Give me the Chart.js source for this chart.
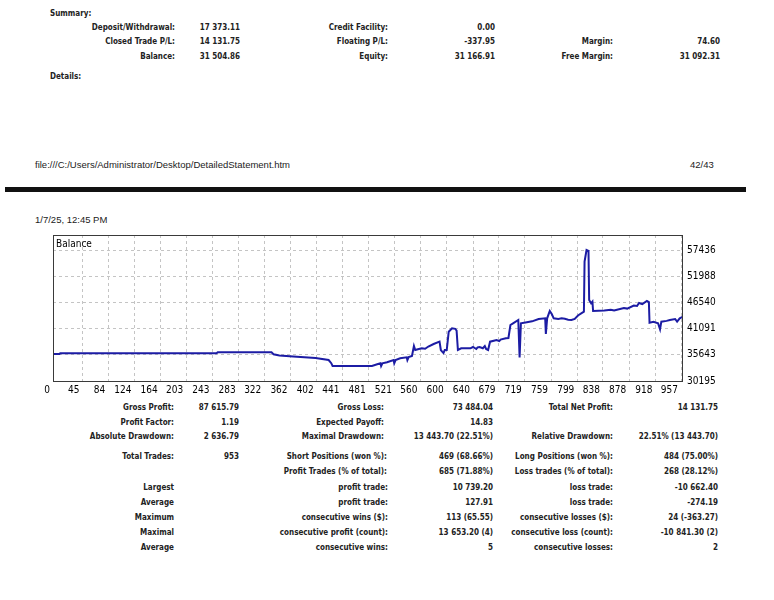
<!DOCTYPE html>
<html>
<head>
<meta charset="utf-8">
<title>Detailed Statement</title>
<script src="https://cdn.jsdelivr.net/npm/chart.js@4.4.1/dist/chart.umd.min.js"></script>
<style>
    html, body { margin: 0; padding: 0; background: #fff; }
    #page { position: relative; width: 774px; height: 600px; overflow: hidden; }
    .t {
        position: absolute;
        white-space: nowrap;
        font: bold 8px "DejaVu Sans Condensed", "DejaVu Sans", sans-serif;
        color: #222;
        line-height: 10px;
        transform: translateY(-50%);
    }
    .t.r { transform: translate(-100%, -50%); }
    .p {
        position: absolute;
        white-space: nowrap;
        font: 9.5px "Liberation Sans", Arial, sans-serif;
        color: #222;
        line-height: 11px;
        transform: translateY(-50%);
    }
    #bar { position: absolute; left: 5px; top: 187px; width: 741px; height: 5px; background: #111; }
    #chartBox { position: absolute; left: 40px; top: 230px; width: 708px; height: 170px; }
    #balanceLabel {
        position: absolute; left: 56px; top: 243px;
        font: 10px "DejaVu Sans Condensed", "DejaVu Sans", sans-serif;
        color: #000; transform: translateY(-50%); white-space: nowrap;
    }
</style>
</head>
<body>
<div id="page">
    <div class="t" style="left:50px;top:13.5px">Summary:</div>

    <div class="t r" style="left:175px;top:27.5px">Deposit/Withdrawal:</div>
    <div class="t r" style="left:240px;top:27.5px">17 373.11</div>
    <div class="t r" style="left:388px;top:27.5px">Credit Facility:</div>
    <div class="t r" style="left:495px;top:27.5px">0.00</div>

    <div class="t r" style="left:175px;top:42px">Closed Trade P/L:</div>
    <div class="t r" style="left:240px;top:42px">14 131.75</div>
    <div class="t r" style="left:388px;top:42px">Floating P/L:</div>
    <div class="t r" style="left:495px;top:42px">-337.95</div>
    <div class="t r" style="left:613px;top:42px">Margin:</div>
    <div class="t r" style="left:720px;top:42px">74.60</div>

    <div class="t r" style="left:175px;top:56.5px">Balance:</div>
    <div class="t r" style="left:240px;top:56.5px">31 504.86</div>
    <div class="t r" style="left:388px;top:56.5px">Equity:</div>
    <div class="t r" style="left:495px;top:56.5px">31 166.91</div>
    <div class="t r" style="left:613px;top:56.5px">Free Margin:</div>
    <div class="t r" style="left:720px;top:56.5px">31 092.31</div>

    <div class="t" style="left:50px;top:77px">Details:</div>

    <div class="p" style="left:35px;top:164px">file:///C:/Users/Administrator/Desktop/DetailedStatement.htm</div>
    <div class="p" style="left:690px;top:164px">42/43</div>
    <div id="bar"></div>
    <div class="p" style="left:35px;top:219px">1/7/25, 12:45 PM</div>

    <div id="chartBox"><canvas id="balanceChart" width="708" height="170"></canvas></div>
    <div id="balanceLabel">Balance</div>

    <div class="t r" style="left:174px;top:408px">Gross Profit:</div>
    <div class="t r" style="left:239px;top:408px">87 615.79</div>
    <div class="t r" style="left:384px;top:408px">Gross Loss:</div>
    <div class="t r" style="left:493px;top:408px">73 484.04</div>
    <div class="t r" style="left:613px;top:408px">Total Net Profit:</div>
    <div class="t r" style="left:718px;top:408px">14 131.75</div>

    <div class="t r" style="left:174px;top:422.5px">Profit Factor:</div>
    <div class="t r" style="left:239px;top:422.5px">1.19</div>
    <div class="t r" style="left:384px;top:422.5px">Expected Payoff:</div>
    <div class="t r" style="left:493px;top:422.5px">14.83</div>

    <div class="t r" style="left:174px;top:437px">Absolute Drawdown:</div>
    <div class="t r" style="left:239px;top:437px">2 636.79</div>
    <div class="t r" style="left:384px;top:437px">Maximal Drawdown:</div>
    <div class="t r" style="left:493px;top:437px">13 443.70 (22.51%)</div>
    <div class="t r" style="left:613px;top:437px">Relative Drawdown:</div>
    <div class="t r" style="left:718px;top:437px">22.51% (13 443.70)</div>

    <div class="t r" style="left:174px;top:457px">Total Trades:</div>
    <div class="t r" style="left:239px;top:457px">953</div>
    <div class="t r" style="left:387px;top:457px">Short Positions (won %):</div>
    <div class="t r" style="left:493px;top:457px">469 (68.66%)</div>
    <div class="t r" style="left:613px;top:457px">Long Positions (won %):</div>
    <div class="t r" style="left:718px;top:457px">484 (75.00%)</div>

    <div class="t r" style="left:387px;top:472px">Profit Trades (% of total):</div>
    <div class="t r" style="left:493px;top:472px">685 (71.88%)</div>
    <div class="t r" style="left:613px;top:472px">Loss trades (% of total):</div>
    <div class="t r" style="left:718px;top:472px">268 (28.12%)</div>

    <div class="t r" style="left:174px;top:488px">Largest</div>
    <div class="t r" style="left:388px;top:488px">profit trade:</div>
    <div class="t r" style="left:493px;top:488px">10 739.20</div>
    <div class="t r" style="left:613px;top:488px">loss trade:</div>
    <div class="t r" style="left:718px;top:488px">-10 662.40</div>

    <div class="t r" style="left:174px;top:503px">Average</div>
    <div class="t r" style="left:388px;top:503px">profit trade:</div>
    <div class="t r" style="left:493px;top:503px">127.91</div>
    <div class="t r" style="left:613px;top:503px">loss trade:</div>
    <div class="t r" style="left:718px;top:503px">-274.19</div>

    <div class="t r" style="left:174px;top:518px">Maximum</div>
    <div class="t r" style="left:388px;top:518px">consecutive wins ($):</div>
    <div class="t r" style="left:493px;top:518px">113 (65.55)</div>
    <div class="t r" style="left:613px;top:518px">consecutive losses ($):</div>
    <div class="t r" style="left:718px;top:518px">24 (-363.27)</div>

    <div class="t r" style="left:174px;top:533px">Maximal</div>
    <div class="t r" style="left:388px;top:533px">consecutive profit (count):</div>
    <div class="t r" style="left:493px;top:533px">13 653.20 (4)</div>
    <div class="t r" style="left:613px;top:533px">consecutive loss (count):</div>
    <div class="t r" style="left:718px;top:533px">-10 841.30 (2)</div>

    <div class="t r" style="left:174px;top:548px">Average</div>
    <div class="t r" style="left:388px;top:548px">consecutive wins:</div>
    <div class="t r" style="left:493px;top:548px">5</div>
    <div class="t r" style="left:613px;top:548px">consecutive losses:</div>
    <div class="t r" style="left:718px;top:548px">2</div>
</div>

<script>
// balance curve (trade number -> balance)
var tradeIndex = [
    0, 10, 11, 249, 251, 333, 336, 345, 366, 400, 420, 424, 426, 486,
    494, 499, 500, 502, 509, 519, 520, 522, 529, 539, 540, 542, 547, 550,
    552, 556, 562, 567, 572, 580, 589, 591, 593, 595, 597, 600, 603, 608,
    613, 615, 617, 622, 636, 640, 645, 647, 650, 655, 658, 660, 663, 666,
    676, 680, 682, 690, 694, 697, 701, 709, 711, 713, 720, 730, 740, 750,
    751, 753, 757, 760, 763, 770, 775, 780, 785, 790, 795, 800, 809, 810,
    813, 816, 817, 820, 822, 823, 840, 850, 855, 870, 875, 885, 890, 893,
    898, 905, 908, 909, 915, 922, 925, 927, 935, 940, 948, 951, 955, 960
];
var balance = [
    35810, 35810, 35955, 35955, 36150, 36150, 35750, 35520, 35290, 34980, 34560, 33900, 33315, 33315,
    33670, 33875, 33315, 33875, 34085, 34560, 33875, 34560, 34915, 35125, 34560, 35185, 35395, 37475,
    36640, 36800, 36995, 36900, 37370, 37890, 38370, 36640, 36300, 36020, 36640, 36640, 40450, 41155,
    41050, 40655, 36640, 36995, 36995, 37265, 36850, 37200, 37265, 37000, 37475, 36850, 36640, 38370,
    38720, 38500, 38800, 39075, 39140, 41840, 42195, 42880, 35080, 42195, 42360, 42600, 43090, 43235,
    39970, 43235, 44750, 44130, 43235, 43100, 43250, 43130, 42950, 42880, 43090, 43815, 44605, 55005,
    57435, 57230, 47040, 46355, 46700, 44750, 44855, 45000, 44850, 45375, 45250, 45895, 45800, 46415,
    46200, 46830, 46600, 42320, 42530, 42195, 40945, 42530, 42700, 42880, 43090, 42530, 43235, 43570
];

var xTickLabels = [0, 45, 84, 124, 164, 203, 243, 283, 322, 362, 402, 441, 481,
    521, 560, 600, 640, 679, 719, 759, 799, 838, 878, 918, 957];
var yTickLabels = [30195, 35643, 41091, 46540, 51988, 57436];
var xMax = 960;
var yMin = 30195;
var yMax = 60556;

(function () {
    'use strict';

    var tickFont = { family: '"DejaVu Sans Condensed", "DejaVu Sans", sans-serif', size: 10 };

    // MT4 style frame around the plot
    var framePlugin = {
        id: 'frame',
        afterDraw: function (chart) {
            var a = chart.chartArea;
            var ctx = chart.ctx;
            ctx.save();
            ctx.strokeStyle = '#3a3a3a';
            ctx.lineWidth = 1;
            ctx.strokeRect(a.left + 0.5, a.top + 0.5, a.right - a.left - 1, a.bottom - a.top);
            ctx.restore();
        }
    };

    var points = tradeIndex.map(function (x, i) {
        return { x: x, y: balance[i] };
    });

    new Chart(document.getElementById('balanceChart'), {
        type: 'line',
        data: {
            datasets: [{
                label: 'Balance',
                data: points,
                borderColor: '#1c1ca4',
                borderWidth: 2,
                pointRadius: 0,
                tension: 0,
                fill: false
            }]
        },
        options: {
            responsive: false,
            animation: false,
            layout: { padding: { left: 13, top: 5, right: 0, bottom: 0 } },
            plugins: {
                legend: { display: false },
                tooltip: { enabled: false }
            },
            scales: {
                x: {
                    type: 'linear',
                    position: 'bottom',
                    min: 0,
                    max: xMax,
                    afterBuildTicks: function (scale) {
                        scale.ticks = xTickLabels.map(function (v) { return { value: v }; });
                    },
                    afterFit: function (scale) {
                        scale.height = 19;
                        scale.paddingLeft = 0;
                        scale.paddingRight = 0;
                    },
                    ticks: {
                        autoSkip: false,
                        maxRotation: 0,
                        align: 'end',
                        labelOffset: -3,
                        padding: 3,
                        color: '#000',
                        font: tickFont,
                        callback: function (v) { return String(v); }
                    },
                    grid: { color: '#c4c4c4', drawTicks: false },
                    border: { display: false, dash: [3, 3] }
                },
                y: {
                    type: 'linear',
                    position: 'right',
                    min: yMin,
                    max: yMax,
                    afterBuildTicks: function (scale) {
                        scale.ticks = yTickLabels.map(function (v) { return { value: v }; });
                    },
                    afterFit: function (scale) {
                        scale.width = 65;
                        scale.paddingTop = 0;
                        scale.paddingBottom = 0;
                    },
                    ticks: {
                        padding: 4,
                        color: '#000',
                        font: tickFont,
                        callback: function (v) { return String(v); }
                    },
                    grid: { color: '#c4c4c4', drawTicks: false },
                    border: { display: false, dash: [3, 3] }
                }
            }
        },
        plugins: [framePlugin]
    });
})();
</script>
</body>
</html>
